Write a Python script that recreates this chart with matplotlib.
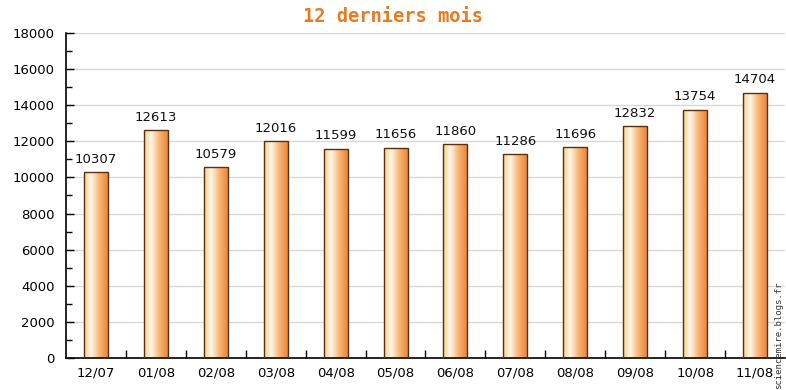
import numpy as np
import matplotlib
matplotlib.use('Agg')
import matplotlib.pyplot as plt
from matplotlib.colors import LinearSegmentedColormap

mois = ['12/07', '01/08', '02/08', '03/08', '04/08', '05/08',
        '06/08', '07/08', '08/08', '09/08', '10/08', '11/08']
visites = [10307, 12613, 10579, 12016, 11599, 11656,
           11860, 11286, 11696, 12832, 13754, 14704]

fig = plt.figure(figsize=(7.86, 3.90), dpi=100)
ax = fig.add_axes([66 / 786, 32 / 390, 719 / 786, 325 / 390])

# degrade des barres: jaune pale -> blanc -> orange
cmap = LinearSegmentedColormap.from_list(
    'barre', [(0, '#f8d088'), (0.3, '#fdf6ea'), (0.65, '#f6b474'), (1, '#ee8636')])
grad = np.linspace(0, 1, 64).reshape(1, -1)

x = np.arange(len(mois))
bars = ax.bar(x, visites, width=0.4, facecolor='none', edgecolor='#5a3010',
              linewidth=1.0, zorder=3)
for b, v in zip(bars, visites):
    x0 = b.get_x()
    x1 = x0 + b.get_width()
    im = ax.imshow(grad, cmap=cmap, extent=[x0, x1, 0, v], aspect='auto', zorder=2)
    im.set_clip_path(b)
    ax.text(b.get_x() + b.get_width() / 2, v + 350, str(v), ha='center', va='bottom',
            fontsize=9.5, color='#111111')

ax.set_xlim(-0.5, len(mois) - 0.5)
ax.set_ylim(0, 18000)
ax.set_yticks(range(0, 18001, 2000))
ax.set_yticks(range(1000, 18000, 2000), minor=True)
ax.set_xticks(x)
ax.set_xticklabels(mois)
ax.set_xticks(x[:-1] + 0.5, minor=True)
ax.tick_params(axis='x', which='major', length=0, pad=6, labelsize=9.5)
ax.tick_params(axis='x', which='minor', direction='in', length=6, width=1)
ax.tick_params(axis='y', which='major', direction='in', length=6, width=1, labelsize=9.5, pad=8)
ax.tick_params(axis='y', which='minor', direction='in', length=4, width=1)

ax.grid(axis='y', color='#d8d8d8', linewidth=1, zorder=0)
ax.set_axisbelow(True)
for s in ['top', 'right']:
    ax.spines[s].set_visible(False)
ax.spines['left'].set_linewidth(1.2)
ax.spines['bottom'].set_linewidth(1.2)

fig.text(393 / 786, 1 - 17 / 390, '12 derniers mois', ha='center', va='center',
         fontsize=13.5, fontweight='bold', color='#e87a20', family='DejaVu Sans Mono')
fig.text(779 / 786, 1 - 335 / 390, 'sciencemire.blogs.fr', rotation=90, ha='center',
         va='center', fontsize=6.5, color='#333333', family='DejaVu Sans Mono')

fig.savefig('out.png', dpi=100)
